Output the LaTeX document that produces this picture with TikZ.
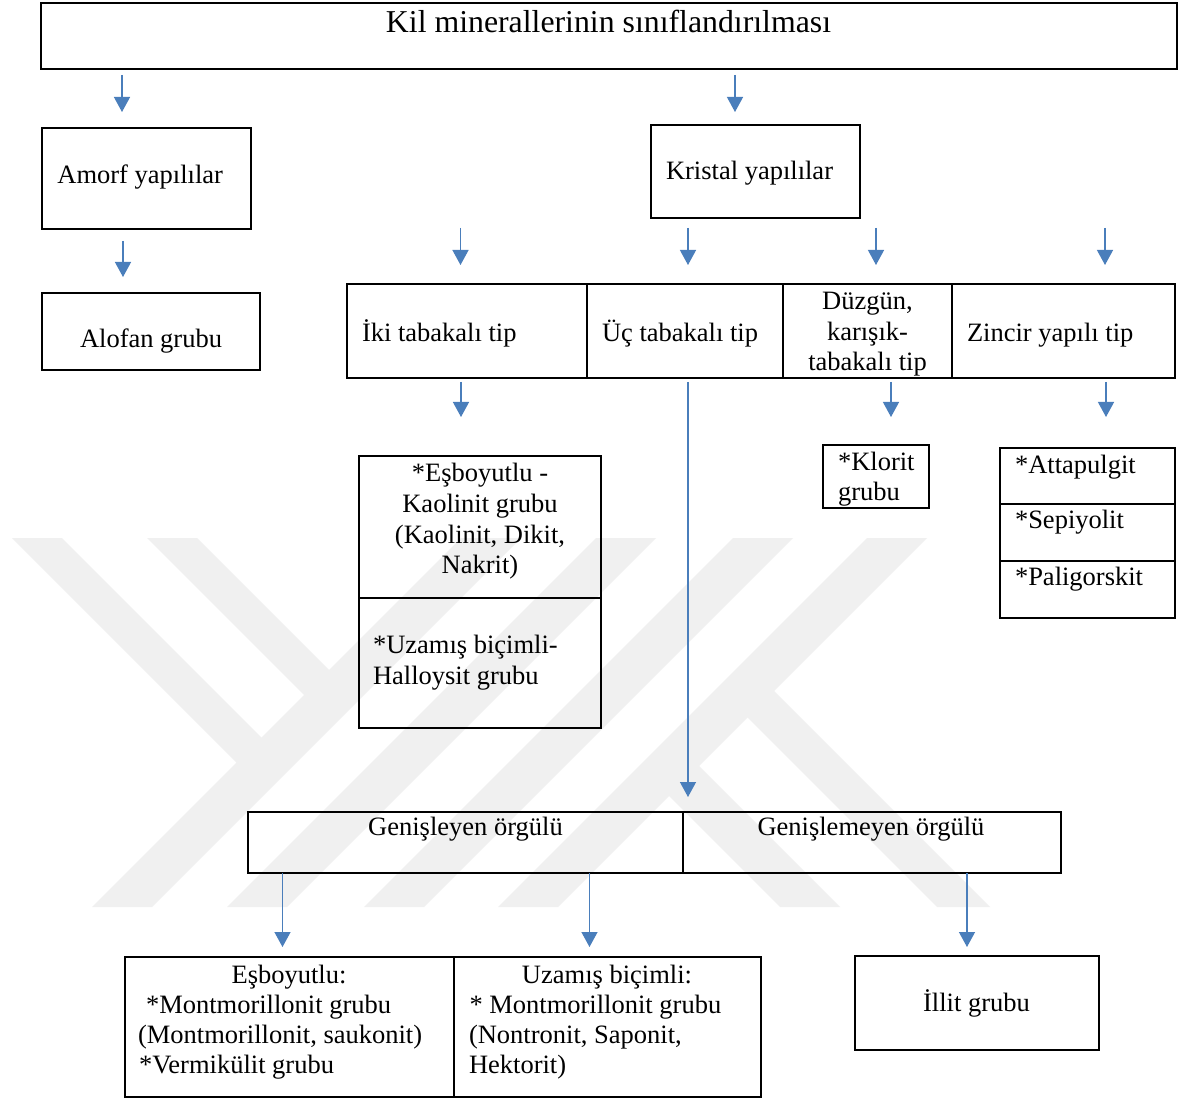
\documentclass[tikz,border=0pt]{standalone}
\usepackage{fontspec}
\setmainfont{Liberation Serif}
\usetikzlibrary{arrows.meta}
\definecolor{arrblue}{RGB}{74,126,187}
\definecolor{wmgray}{RGB}{240,240,240}
\newcommand\mkcell[5]{\node[cellbox, minimum width={#4-#2}, minimum height={#5-#3}] (#1) at ({(#2+#4)/2},{(#3+#5)/2}) {};}
\tikzset{
  cellbox/.style={draw=black, line width=2pt, inner sep=0pt, outer sep=0pt, rectangle},
  txt/.style={inner sep=0pt, outer sep=0pt, font=\fontsize{26.5}{30.5}\selectfont},
  ttl/.style={inner sep=0pt, outer sep=0pt, font=\fontsize{31.8}{36}\selectfont},
  arr/.style={draw=arrblue, line width=1.3pt, -{Triangle[width=16pt,length=15pt]}, arrblue},
  wm/.style={fill=wmgray, draw=none}
}
\begin{document}
\begin{tikzpicture}[x=1pt, y=-1pt]
\useasboundingbox (0,0) rectangle (1187,1099);
\fill[white] (0,0) rectangle (1187,1099);
% watermark
\fill[wm] (92,907) -- (152,907) -- (521,538) -- (461,538) -- cycle;
\fill[wm] (227,907) -- (287,907) -- (656,538) -- (596,538) -- cycle;
\fill[wm] (364,907) -- (424,907) -- (793,538) -- (733,538) -- cycle;
\fill[wm] (498,907) -- (558,907) -- (927,538) -- (867,538) -- cycle;
\fill[wm] (12,538) -- (62,538) -- (272,748) -- (247,773) -- cycle;
\fill[wm] (147,538) -- (197,538) -- (339.5,680.5) -- (314.5,705.5) -- cycle;
\fill[wm] (730,700) -- (756.5,673.5) -- (990,907) -- (937,907) -- cycle;
\fill[wm] (651.5,778.5) -- (681.5,748.5) -- (840,907) -- (780,907) -- cycle;
% boxes
\mkcell{title}{41}{3}{1177}{69}
\mkcell{amorf}{41.5}{128}{250.5}{229}
\mkcell{alofan}{42}{293}{260}{370}
\mkcell{kristal}{650.5}{125}{860}{218}
\mkcell{iki}{347}{284}{587}{378}
\mkcell{uc}{587}{284}{783}{378}
\mkcell{duz}{783}{284}{952}{378}
\mkcell{zin}{952}{284}{1175}{378}
\mkcell{kaoa}{358.5}{456}{601}{598}
\mkcell{kaob}{358.5}{598}{601}{728}
\mkcell{klorit}{823}{445}{929}{508}
\mkcell{atta}{1000}{448}{1175}{504}
\mkcell{sepi}{1000}{504}{1175}{561}
\mkcell{pali}{1000}{561}{1175}{618}
\mkcell{genis}{248}{812}{683}{873}
\mkcell{genm}{683}{812}{1061}{873}
\mkcell{esb}{124.5}{957}{454}{1097}
\mkcell{uzb}{454}{957}{761}{1097}
\mkcell{illit}{855}{956}{1099}{1050}
% texts
\node[ttl, anchor=base] (ttitle) at (608.5,33) {Kil minerallerinin sınıflandırılması};
\node[txt, anchor=base west] (tamorf) at (57.4,183.5) {Amorf yapılılar};
\node[txt, anchor=base west] (talofan) at (80,348) {Alofan grubu};
\node[txt, anchor=base west] (tkristal) at (666,180) {Kristal yapılılar};
\node[txt, anchor=base west] (tiki) at (362,342) {İki tabakalı tip};
\node[txt, anchor=base west] (tuc) at (602,342) {Üç tabakalı tip};
\node[txt, anchor=base] (tduza) at (867.5,310) {Düzgün,};
\node[txt, anchor=base] (tduzb) at (867.5,340.5) {karışık-};
\node[txt, anchor=base] (tduzc) at (867.5,371) {tabakalı tip};
\node[txt, anchor=base west] (tzin) at (967,342) {Zincir yapılı tip};
\node[txt, anchor=base] (tkaoa) at (480,482) {*Eşboyutlu -};
\node[txt, anchor=base] (tkaob) at (480,512) {Kaolinit grubu};
\node[txt, anchor=base] (tkaoc) at (480,543) {(Kaolinit, Dikit,};
\node[txt, anchor=base] (tkaod) at (480,573) {Nakrit)};
\node[txt, anchor=base west] (thala) at (373,653) {*Uzamış biçimli-};
\node[txt, anchor=base west] (thalb) at (373,684) {Halloysit grubu};
\node[txt, anchor=base west] (tklora) at (838,470) {*Klorit};
\node[txt, anchor=base west] (tklorb) at (838,500) {grubu};
\node[txt, anchor=base west] (tatta) at (1015,473) {*Attapulgit};
\node[txt, anchor=base west] (tsepi) at (1015,528) {*Sepiyolit};
\node[txt, anchor=base west] (tpali) at (1015,585) {*Paligorskit};
\node[txt, anchor=base] (tgenis) at (465.5,835) {Genişleyen örgülü};
\node[txt, anchor=base] (tgenm) at (871,835) {Genişlemeyen örgülü};
\node[txt, anchor=base] (tesba) at (289,983) {Eşboyutlu:};
\node[txt, anchor=base west] (tesbb) at (146,1013) {*Montmorillonit grubu};
\node[txt, anchor=base west] (tesbc) at (138,1043) {(Montmorillonit, saukonit)};
\node[txt, anchor=base west] (tesbd) at (139,1073) {*Vermikülit grubu};
\node[txt, anchor=base] (tuzba) at (607,983) {Uzamış biçimli:};
\node[txt, anchor=base west] (tuzbb) at (469.5,1013) {* Montmorillonit grubu};
\node[txt, anchor=base west] (tuzbc) at (469,1043) {(Nontronit, Saponit,};
\node[txt, anchor=base west] (tuzbd) at (469,1073) {Hektorit)};
\node[txt, anchor=base] (tillit) at (976.5,1011.5) {İllit grubu};
% arrow end points
\coordinate (s1) at (122,75);   \coordinate (e1) at (122,112);
\coordinate (s2) at (735,75);   \coordinate (e2) at (735,112);
\coordinate (s3) at (123,241);  \coordinate (e3) at (123,277);
\coordinate (s4) at (460.5,228);\coordinate (e4) at (460.5,265);
\coordinate (s5) at (688,228);  \coordinate (e5) at (688,265);
\coordinate (s6) at (876,228);  \coordinate (e6) at (876,265);
\coordinate (s7) at (1105,228); \coordinate (e7) at (1105,265);
\coordinate (s8) at (461,382);  \coordinate (e8) at (461,417);
\coordinate (s9) at (891,382);  \coordinate (e9) at (891,417);
\coordinate (s10) at (1106,382);\coordinate (e10) at (1106,417);
\coordinate (s11) at (688,382); \coordinate (e11) at (688,797);
\coordinate (s12) at (282.5,873);\coordinate (e12) at (282.5,947);
\coordinate (s13) at (589.5,873);\coordinate (e13) at (589.5,947);
\coordinate (s14) at (967,873); \coordinate (e14) at (967,947);
\foreach \i in {1,...,14} { \draw[arr] (s\i) -- (e\i); }
\end{tikzpicture}
\end{document}
